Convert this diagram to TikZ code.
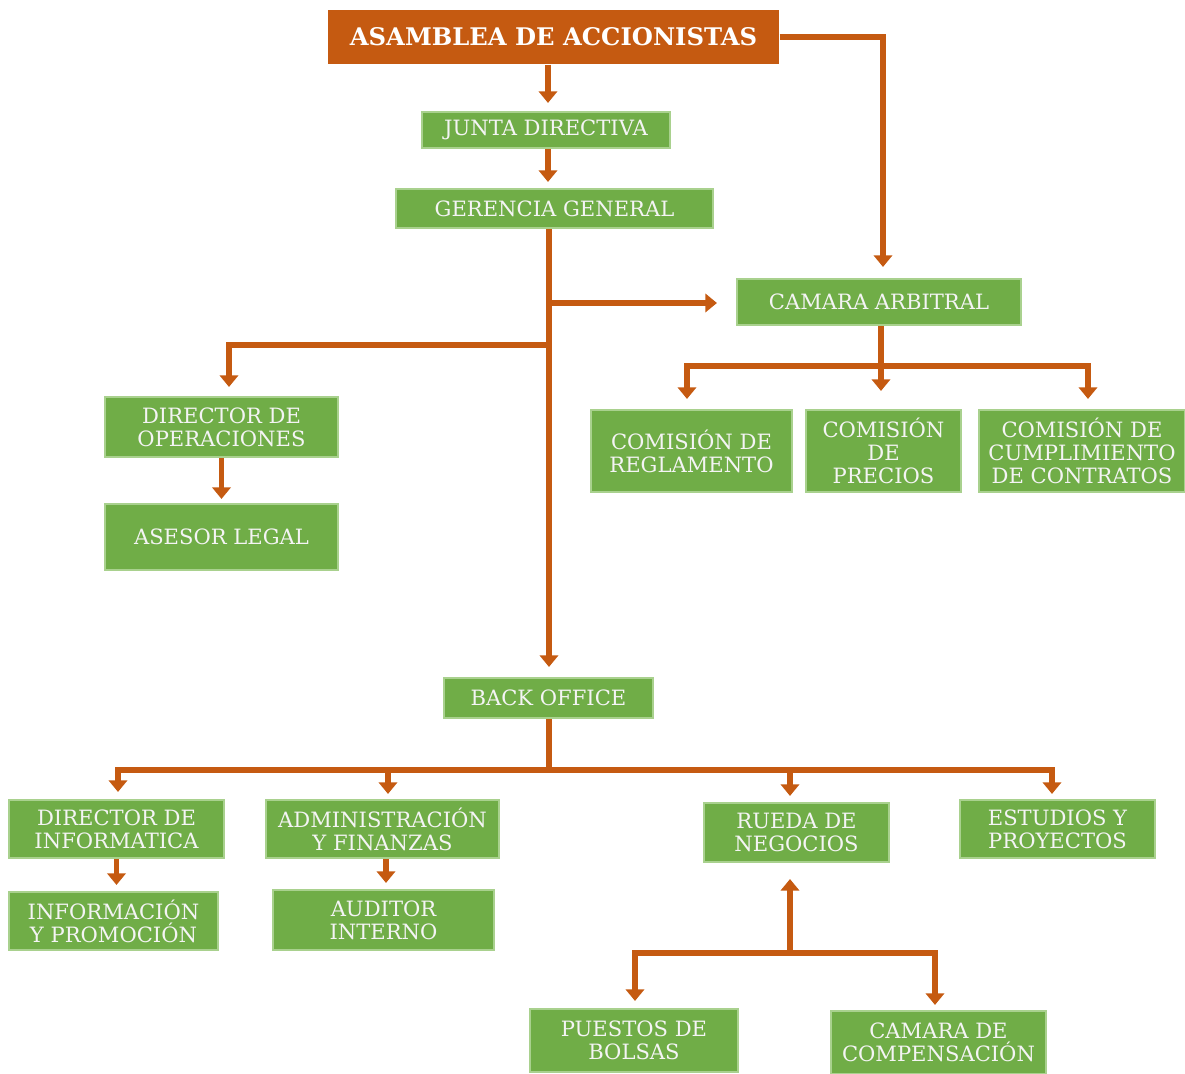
\documentclass[tikz,border=0pt]{standalone}
\usepackage{fontspec}
\setmainfont{DejaVu Serif}
\usetikzlibrary{arrows.meta}
\definecolor{orgcolor}{HTML}{C55A11}
\definecolor{boxgreen}{HTML}{70AD47}
\definecolor{boxedge}{HTML}{A9D18E}
\definecolor{boxtext}{HTML}{F4F4F4}
\begin{document}
\begin{tikzpicture}[
        unit/.style = {draw = boxedge, line width = 0.6pt, fill = boxgreen, text = boxtext,
            align = center, inner sep = 0pt, font = \fontsize{6}{6.6}\selectfont},
        head/.style = {fill = orgcolor, text = white, inner sep = 0pt,
            font = \fontsize{6.9}{7.5}\selectfont\bfseries},
        link/.style = {draw = orgcolor, line width = 1.6pt,
            -{Triangle[width = 5.2pt, length = 3.3pt]}},
        bar/.style = {draw = orgcolor, line width = 1.6pt}
    ]
                \useasboundingbox (0, 0) rectangle (11.85, -10.74);

                \node [head, minimum width = 4.51cm, minimum height = 0.54cm] (asamblea) at (5.535, -0.37) {ASAMBLEA DE ACCIONISTAS};
                \node [unit, minimum width = 2.48cm, minimum height = 0.36cm] (junta) at (5.46, -1.30) {JUNTA DIRECTIVA};
                \node [unit, minimum width = 3.17cm, minimum height = 0.39cm] (gerencia) at (5.545, -2.085) {GERENCIA GENERAL};
                \node [unit, minimum width = 2.84cm, minimum height = 0.46cm] (camara) at (8.79, -3.02) {CAMARA ARBITRAL};
                \node [unit, minimum width = 2.33cm, minimum height = 0.60cm] (operaciones) at (2.215, -4.27) {DIRECTOR DE\\OPERACIONES};
                \node [unit, minimum width = 2.33cm, minimum height = 0.66cm] (asesor) at (2.215, -5.37) {ASESOR LEGAL};
                \node [unit, minimum width = 2.01cm, minimum height = 0.82cm] (reglamento) at (6.915, -4.51) {COMISIÓN DE\\REGLAMENTO};
                \node [unit, minimum width = 1.55cm, minimum height = 0.82cm] (precios) at (8.835, -4.51) {COMISIÓN\\DE\\PRECIOS};
                \node [unit, minimum width = 2.06cm, minimum height = 0.82cm] (contratos) at (10.82, -4.51) {COMISIÓN DE\\CUMPLIMIENTO\\DE CONTRATOS};
                \node [unit, minimum width = 2.09cm, minimum height = 0.40cm] (backoffice) at (5.485, -6.98) {BACK OFFICE};
                \node [unit, minimum width = 2.15cm, minimum height = 0.58cm] (informatica) at (1.165, -8.29) {DIRECTOR DE\\INFORMATICA};
                \node [unit, minimum width = 2.09cm, minimum height = 0.58cm] (promocion) at (1.135, -9.21) {INFORMACIÓN\\Y PROMOCIÓN};
                \node [unit, minimum width = 2.33cm, minimum height = 0.58cm] (finanzas) at (3.825, -8.29) {ADMINISTRACIÓN\\Y FINANZAS};
                \node [unit, minimum width = 2.21cm, minimum height = 0.60cm] (auditor) at (3.835, -9.20) {AUDITOR\\INTERNO};
                \node [unit, minimum width = 1.85cm, minimum height = 0.59cm] (rueda) at (7.965, -8.325) {RUEDA DE\\NEGOCIOS};
                \node [unit, minimum width = 1.95cm, minimum height = 0.58cm] (estudios) at (10.575, -8.29) {ESTUDIOS Y\\PROYECTOS};
                \node [unit, minimum width = 2.08cm, minimum height = 0.63cm] (puestos) at (6.34, -10.405) {PUESTOS DE\\BOLSAS};
                \node [unit, minimum width = 2.15cm, minimum height = 0.63cm] (compensacion) at (9.385, -10.425) {CAMARA DE\\COMPENSACIÓN};

                \coordinate (arbitral joint) at (5.49, -3.03);
                \coordinate (operaciones joint) at (5.49, -3.45);
                \coordinate (comision joint) at (8.81, -3.66);
                \coordinate (back joint) at (5.49, -7.70);
                \coordinate (rueda joint) at (7.90, -9.53);

                \draw [link, shorten > = 0.08cm] ([xshift = -0.055cm]asamblea.south) -- ([xshift = -0.055cm]asamblea.south |- junta.north);
                \draw [link, shorten > = 0.06cm] ([xshift = 0.02cm]junta.south) -- ([xshift = 0.02cm]junta.south |- gerencia.north);
                \draw [link, shorten > = 0.11cm] (asamblea.east) -| ([xshift = 0.04cm]camara.north);
                \draw [link, shorten > = 0.10cm] (gerencia.south -| back joint) -- (back joint |- backoffice.north);
                \draw [link, shorten > = 0.19cm] (arbitral joint) -- (arbitral joint -| camara.west);
                \draw [link, shorten > = 0.09cm] (operaciones joint) -| ([xshift = 0.075cm]operaciones.north);
                \draw [link, shorten > = 0.04cm] (operaciones.south) -- (asesor.north);

                \draw [link, shorten > = 0.18cm] (camara.south -| comision joint) -- (comision joint |- precios.north);
                \draw [link, shorten > = 0.10cm] (comision joint) -| ([xshift = -0.045cm]reglamento.north);
                \draw [link, shorten > = 0.10cm] (comision joint) -| ([xshift = 0.06cm]contratos.north);

                \draw [bar] (back joint |- backoffice.south) -- (back joint);
                \draw [link, shorten > = 0.07cm] (back joint) -| ([xshift = 0.015cm]informatica.north);
                \draw [link, shorten > = 0.05cm] (back joint) -| ([xshift = 0.055cm]finanzas.north);
                \draw [link, shorten > = 0.06cm] (back joint) -| ([xshift = -0.065cm]rueda.north);
                \draw [link, shorten > = 0.05cm] (back joint) -| ([xshift = -0.055cm]estudios.north);
                \draw [link, shorten > = 0.06cm] (informatica.south) -- (informatica.south |- promocion.north);
                \draw [link, shorten > = 0.06cm] ([xshift = 0.035cm]finanzas.south) -- ([xshift = 0.035cm]finanzas.south |- auditor.north);

                \draw [link, shorten > = 0.16cm] (rueda joint) -- (rueda joint |- rueda.south);
                \draw [link, shorten > = 0.07cm] (rueda joint) -| ([xshift = 0.01cm]puestos.north);
                \draw [link, shorten > = 0.05cm] (rueda joint) -| ([xshift = -0.035cm]compensacion.north);
            \end{tikzpicture}
\end{document}
